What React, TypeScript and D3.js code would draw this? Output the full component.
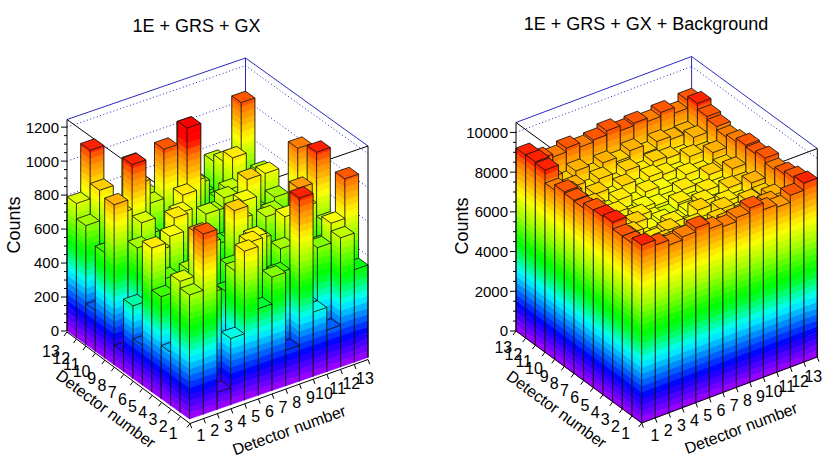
import { useEffect, useRef } from "react";
import * as d3 from "d3";

// Bin labels shared by both axes of both plots
const detectorLabels = ["1", "2", "3", "4", "5", "6", "7", "8", "9", "10", "11", "12", "13"];

// counts[j][i]: j = detector on the left-hand axis, i = detector on the right-hand axis
const signalCounts: number[][] = [
  [730, 1060, 100, 390, 876, 510, 668, 210, 1078, 378, 245, 760, 545],
  [770, 420, 640, 180, 720, 860, 350, 620, 480, 380, 690, 806, 1040],
  [313, 580, 953, 260, 560, 300, 820, 150, 700, 560, 240, 640, 420],
  [600, 250, 700, 820, 200, 640, 480, 740, 380, 820, 960, 260, 700],
  [847, 640, 300, 560, 760, 220, 900, 400, 620, 300, 560, 780, 1077],
  [233, 760, 820, 360, 640, 520, 300, 780, 200, 740, 400, 620, 800],
  [427, 300, 560, 860, 280, 700, 620, 240, 820, 480, 700, 300, 1020],
  [115, 700, 240, 600, 820, 380, 760, 560, 300, 880, 260, 720, 500],
  [942, 460, 780, 300, 560, 860, 240, 700, 760, 320, 640, 820, 380],
  [620, 820, 1083, 640, 300, 480, 1187, 360, 600, 740, 300, 680, 560],
  [240, 560, 700, 900, 760, 1050, 420, 800, 280, 640, 860, 500, 720],
  [700, 880, 360, 740, 520, 640, 860, 300, 720, 540, 800, 460, 640],
  [790, 1076, 620, 560, 910, 700, 540, 820, 1010, 600, 760, 680, 1050],
];

const totalCounts: number[][] = [
  [8960, 8700, 8450, 8600, 8800, 8500, 8350, 8550, 8780, 8440, 8300, 8650, 9010],
  [8700, 7900, 7650, 8000, 7550, 8100, 7700, 7950, 7600, 7850, 8150, 7750, 8900],
  [8700, 7700, 7300, 7650, 7150, 7500, 7050, 7700, 7200, 7550, 7250, 7900, 8750],
  [9050, 8000, 7100, 7400, 7600, 7000, 7350, 7100, 7650, 7150, 7550, 7600, 8600],
  [8960, 7650, 7600, 7050, 6950, 7350, 6900, 7500, 7000, 7400, 7150, 7850, 8840],
  [8930, 8050, 7200, 7500, 6900, 7100, 6800, 7050, 7300, 6900, 7500, 7450, 8700],
  [8680, 7750, 7350, 6950, 7250, 6850, 6750, 7150, 6900, 7250, 7100, 7850, 8780],
  [8720, 7950, 7100, 7300, 6850, 7050, 6900, 6800, 7200, 6950, 7450, 7600, 8600],
  [8790, 7600, 7600, 7000, 7350, 6900, 7250, 7100, 6850, 7350, 7200, 7950, 8475],
  [8520, 8100, 7250, 7550, 7100, 7450, 7000, 7400, 7250, 7050, 7650, 7550, 8650],
  [9170, 7750, 7800, 7350, 7700, 7150, 7600, 7250, 7550, 7450, 7300, 8000, 8800],
  [9230, 8150, 7650, 8000, 7550, 7900, 7700, 8000, 7600, 7950, 7800, 7850, 9100],
  [9210, 8750, 8600, 8800, 8590, 8700, 8900, 8650, 8770, 8600, 8800, 8510, 8900],
];

const signalTicks = [0, 200, 400, 600, 800, 1000, 1200];
const totalTicks = [0, 2000, 4000, 6000, 8000, 10000];

type Pt = [number, number];

interface PanelSpec {
  title: string;
  titlePos: Pt;
  counts: number[][];
  zMax: number;
  zTicks: number[];
  zMinor: number;
  // projection of the bars: origin = front bottom corner, ax/ay = full axis vectors
  origin: Pt;
  ax: Pt;
  ay: Pt;
  height: number;
  // projection of the two bottom axis lines
  axisOrigin: Pt;
  axisAx: Pt;
  axisAy: Pt;
  xLabels: [Pt, Pt];
  yLabels: [Pt, Pt];
  xTitle: Pt;
  yTitle: Pt;
  countsPos: Pt;
}

const FONT = "'Liberation Sans', Arial, Helvetica, sans-serif";
const N_LEVELS = 34;
const BLUE = "#2a2ab8";
// hue of the palette as a function of the fraction of the z range
const hue = d3
  .scaleLinear()
  .domain([0, 0.1, 0.2, 0.3, 0.4, 0.57, 0.67, 0.76, 0.8, 0.83, 0.86, 0.9])
  .range([280, 250, 215, 178, 130, 82, 60, 40, 32, 24, 10, 0])
  .clamp(true);

const panels: PanelSpec[] = [
  {
    title: "1E + GRS + GX",
    titlePos: [196.5, 31.5],
    counts: signalCounts,
    zMax: 1245,
    zTicks: signalTicks,
    zMinor: 50,
    origin: [189.5, 419],
    ax: [178.5, -61.5],
    ay: [-122.5, -88],
    height: 211.5,
    axisOrigin: [190, 423.5],
    axisAx: [178, -64],
    axisAy: [-123, -91.5],
    xLabels: [[201, 435.3], [365, 378.7]],
    yLabels: [[173.3, 433.3], [51, 351]],
    xTitle: [289, 430],
    yTitle: [106, 408.7],
    countsPos: [20, 225],
  },
  {
    title: "1E + GRS + GX + Background",
    titlePos: [646, 29.5],
    counts: totalCounts,
    zMax: 10500,
    zTicks: totalTicks,
    zMinor: 500,
    origin: [641.7, 423],
    ax: [175.6, -66],
    ay: [-125.7, -92],
    height: 208.5,
    axisOrigin: [641.7, 423],
    axisAx: [175.6, -66],
    axisAy: [-125.7, -92],
    xLabels: [[655, 435.3], [813.3, 376]],
    yLabels: [[625.7, 433.7], [503.3, 347]],
    xTitle: [741, 428],
    yTitle: [556.7, 409],
    countsPos: [468, 226],
  },
];

const f2 = (p: Pt) => `${p[0].toFixed(2)},${p[1].toFixed(2)}`;
const poly = (pts: Pt[]) => "M" + pts.map(f2).join("L") + "Z";
const seg = (a: Pt, b: Pt) => `M${f2(a)}L${f2(b)}`;

function drawPanel(root: d3.Selection<SVGSVGElement, unknown, null, undefined>, s: PanelSpec) {
  const g = root.append("g");
  const n = detectorLabels.length;
  const frac = d3.scaleLinear().domain([0, n]).range([0, 1]);
  const zPx = d3.scaleLinear().domain([0, s.zMax]).range([0, s.height]);

  const P = (bx: number, by: number, z: number): Pt => [
    s.origin[0] + frac(bx) * s.ax[0] + frac(by) * s.ay[0],
    s.origin[1] + frac(bx) * s.ax[1] + frac(by) * s.ay[1] - zPx(z),
  ];
  const Pa = (bx: number, by: number): Pt => [
    s.axisOrigin[0] + frac(bx) * s.axisAx[0] + frac(by) * s.axisAy[0],
    s.axisOrigin[1] + frac(bx) * s.axisAx[1] + frac(by) * s.axisAy[1],
  ];

  // colour levels (rainbow, violet -> red), equal steps in z
  const step = s.zMax / N_LEVELS;
  const colors = d3.range(N_LEVELS).map((k) => d3.hsl(hue((k + 0.5) / N_LEVELS), 1, 0.5).formatHex());
  const level = (z: number) => Math.min(N_LEVELS - 1, Math.max(0, Math.floor(z / step)));

  // back walls: dotted grid + blue edges
  const grid = s.zTicks.filter((t) => t > 0);
  g.append("path")
    .attr("d", grid.map((t) => seg(P(0, n, t), P(n, n, t)) + seg(P(n, n, t), P(n, 0, t))).join(""))
    .attr("fill", "none")
    .attr("stroke", BLUE)
    .attr("stroke-width", 1)
    .attr("stroke-dasharray", "1 2.5");
  g.append("path")
    .attr("d", `M${f2(P(0, n, s.zMax))}L${f2(P(n, n, s.zMax))}L${f2(P(n, 0, s.zMax))}` + seg(P(n, n, 0), P(n, n, s.zMax)))
    .attr("fill", "none")
    .attr("stroke", BLUE)
    .attr("stroke-width", 1);
  // front top edges of the box (behind the bars)
  g.append("path")
    .attr("d", `M${f2(P(0, n, s.zMax))}L${f2(P(0, 0, s.zMax))}L${f2(P(n, 0, s.zMax))}`)
    .attr("fill", "none")
    .attr("stroke", "#000")
    .attr("stroke-width", 1);

  // bars, back to front
  const cells: { i: number; j: number; v: number }[] = [];
  s.counts.forEach((row, j) => row.forEach((v, i) => cells.push({ i, j, v })));
  cells.sort((a, b) => b.i + b.j - (a.i + a.j));
  const barG = g.append("g");
  cells.forEach(({ i, j, v }) => {
    const top = level(v - 1e-6);
    for (let k = 0; k <= top; k++) {
      const za = k * step;
      const zb = k === top ? v : (k + 1) * step;
      const d =
        poly([P(i, j + 1, za), P(i, j, za), P(i, j, zb), P(i, j + 1, zb)]) +
        poly([P(i, j, za), P(i + 1, j, za), P(i + 1, j, zb), P(i, j, zb)]);
      barG.append("path").attr("d", d).attr("fill", colors[k]).attr("stroke", colors[k]).attr("stroke-width", 0.45);
    }
    barG
      .append("path")
      .attr("d", poly([P(i, j, v), P(i + 1, j, v), P(i + 1, j + 1, v), P(i, j + 1, v)]))
      .attr("fill", colors[top])
      .attr("stroke", "#111")
      .attr("stroke-width", 0.85);
    barG
      .append("path")
      .attr("d", seg(P(i, j + 1, 0), P(i, j + 1, v)) + seg(P(i, j, 0), P(i, j, v)) + seg(P(i + 1, j, 0), P(i + 1, j, v)))
      .attr("fill", "none")
      .attr("stroke", "#111")
      .attr("stroke-width", 0.85);
  });

  // vertical axis (Counts)
  const axG = g.append("g").attr("font-family", FONT).attr("fill", "#000");
  const zBase = P(0, n, 0);
  axG.append("path").attr("d", seg(zBase, P(0, n, s.zMax))).attr("stroke", "#000").attr("stroke-width", 1);
  axG.append("path").attr("d", seg(P(n, 0, 0), P(n, 0, s.zMax))).attr("stroke", "#000").attr("stroke-width", 1);
  const minor = d3.range(0, s.zMax, s.zMinor).filter((t) => !s.zTicks.includes(t));
  axG
    .append("path")
    .attr(
      "d",
      s.zTicks.map((t) => seg([zBase[0] - 6, P(0, n, t)[1]], [zBase[0], P(0, n, t)[1]])).join("") +
        minor.map((t) => seg([zBase[0] - 3, P(0, n, t)[1]], [zBase[0], P(0, n, t)[1]])).join("")
    )
    .attr("stroke", "#000")
    .attr("stroke-width", 1);
  s.zTicks.forEach((t) => {
    axG
      .append("text")
      .attr("x", zBase[0] - 8)
      .attr("y", P(0, n, t)[1])
      .attr("dy", "0.36em")
      .attr("text-anchor", "end")
      .attr("font-size", 15)
      .text(String(t));
  });
  axG
    .append("text")
    .attr("transform", `translate(${s.countsPos[0]},${s.countsPos[1]}) rotate(-90)`)
    .attr("text-anchor", "middle")
    .attr("font-size", 18)
    .text("Counts");

  // bottom axes
  const xDir = [s.axisAx[0], s.axisAx[1]];
  const yDir = [s.axisAy[0], s.axisAy[1]];
  const xLen = Math.hypot(xDir[0], xDir[1]);
  const yLen = Math.hypot(yDir[0], yDir[1]);
  const xN: Pt = [-xDir[1] / xLen, xDir[0] / xLen];
  const yN: Pt = [yDir[1] / yLen, -yDir[0] / yLen];
  const edges = d3.range(0, n + 1);
  axG
    .append("path")
    .attr(
      "d",
      seg(Pa(0, 0), Pa(n, 0)) +
        seg(Pa(0, 0), Pa(0, n)) +
        edges
          .map((b) => {
            const p = Pa(b, 0);
            return seg(p, [p[0] + xN[0] * 5, p[1] + xN[1] * 5]);
          })
          .join("") +
        edges
          .map((b) => {
            const p = Pa(0, b);
            return seg(p, [p[0] + yN[0] * 5, p[1] + yN[1] * 5]);
          })
          .join("")
    )
    .attr("stroke", "#000")
    .attr("stroke-width", 1)
    .attr("fill", "none");

  const lx = d3.scaleLinear().domain([1, n]).range([s.xLabels[0][0], s.xLabels[1][0]]);
  const ly = d3.scaleLinear().domain([1, n]).range([s.xLabels[0][1], s.xLabels[1][1]]);
  const mx = d3.scaleLinear().domain([1, n]).range([s.yLabels[0][0], s.yLabels[1][0]]);
  const my = d3.scaleLinear().domain([1, n]).range([s.yLabels[0][1], s.yLabels[1][1]]);
  detectorLabels.forEach((lab, idx) => {
    axG
      .append("text")
      .attr("x", lx(idx + 1))
      .attr("y", ly(idx + 1))
      .attr("dy", "0.36em")
      .attr("text-anchor", "middle")
      .attr("font-size", 16)
      .text(lab);
    axG
      .append("text")
      .attr("x", mx(idx + 1))
      .attr("y", my(idx + 1))
      .attr("dy", "0.36em")
      .attr("text-anchor", "middle")
      .attr("font-size", 16)
      .text(lab);
  });

  const xAng = (Math.atan2(xDir[1], xDir[0]) * 180) / Math.PI;
  const yAng = (Math.atan2(-yDir[1], -yDir[0]) * 180) / Math.PI;
  axG
    .append("text")
    .attr("transform", `translate(${s.xTitle[0]},${s.xTitle[1]}) rotate(${xAng})`)
    .attr("text-anchor", "middle")
    .attr("dy", "0.36em")
    .attr("font-size", 16)
    .text("Detector number");
  axG
    .append("text")
    .attr("transform", `translate(${s.yTitle[0]},${s.yTitle[1]}) rotate(${yAng})`)
    .attr("text-anchor", "middle")
    .attr("dy", "0.36em")
    .attr("font-size", 16)
    .text("Detector number");

  g.append("text")
    .attr("x", s.titlePos[0])
    .attr("y", s.titlePos[1])
    .attr("text-anchor", "middle")
    .attr("font-family", FONT)
    .attr("font-size", 18)
    .text(s.title);
}

export default function App() {
  const ref = useRef<SVGSVGElement>(null);

  useEffect(() => {
    if (!ref.current) return;
    const svg = d3.select(ref.current);
    svg.selectAll("*").remove();
    svg.append("rect").attr("width", 831).attr("height", 464).attr("fill", "#fff");
    panels.forEach((p) => drawPanel(svg, p));
  }, []);

  return (
    <svg
      ref={ref}
      width={831}
      height={464}
      style={{ position: "fixed", left: 0, top: 0, display: "block" }}
    />
  );
}
